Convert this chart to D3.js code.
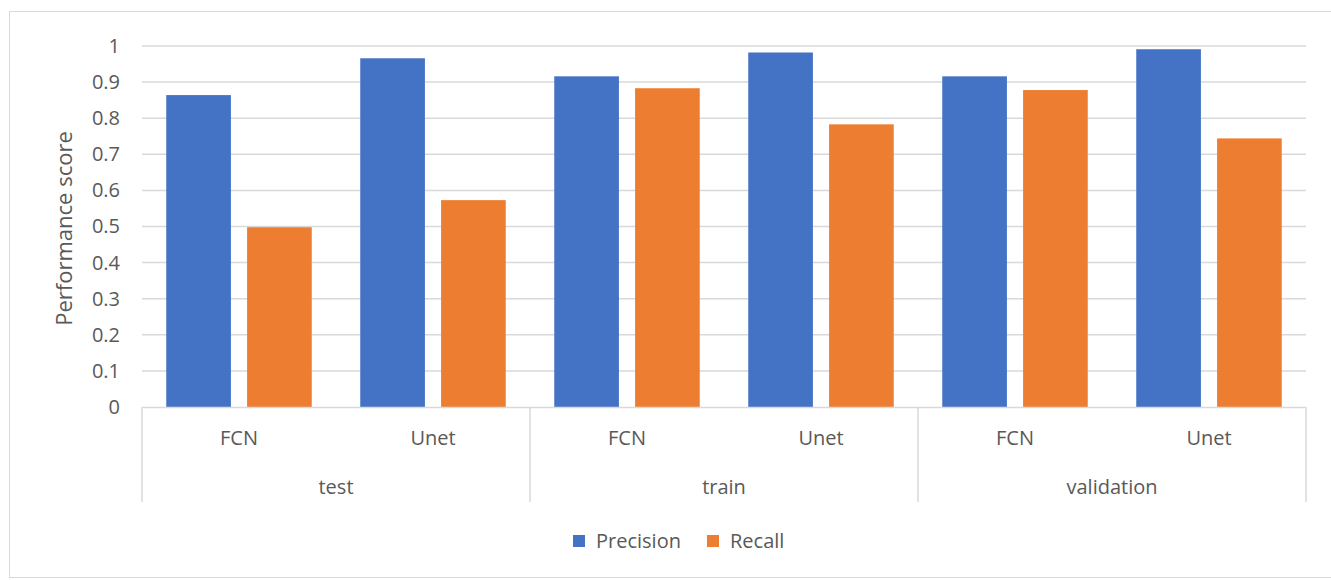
<!DOCTYPE html>
<html><head><meta charset="utf-8">
<script src="https://cdn.jsdelivr.net/npm/d3@7/dist/d3.min.js"></script>
<style>html,body{margin:0;padding:0;background:#fff;}svg{display:block;font-family:"Open Sans",sans-serif;}</style>
</head><body>
<svg id="c" width="1331" height="580"></svg>
<script>
const groups = ["test", "train", "validation"];
const models = ["FCN", "Unet"];
const seriesNames = ["Precision", "Recall"];
const precision = [0.864, 0.966, 0.916, 0.982, 0.916, 0.991];
const recall = [0.498, 0.573, 0.883, 0.783, 0.878, 0.744];
const yTicks = [0, 0.1, 0.2, 0.3, 0.4, 0.5, 0.6, 0.7, 0.8, 0.9, 1];
const colors = ["#4472C4", "#ED7D31"];

(function () {
const svg = d3.select("#c");
const pL = 142, pR = 1306, pT = 46, pB = 407;
const textColor = "#595959";

svg.append("rect").attr("x", 9.5).attr("y", 11.5).attr("width", 1340).attr("height", 566)
  .attr("fill", "none").attr("stroke", "#d9d9d9").attr("stroke-width", 1);

const y = d3.scaleLinear().domain([0, 1]).range([pB, pT]);
const cats = [];
groups.forEach(g => models.forEach(m => cats.push(g + "|" + m)));
const xg = d3.scaleBand().domain(groups).range([pL, pR]);
const xc = d3.scaleBand().domain(cats).range([pL, pR]);
const xs = d3.scaleBand().domain(seriesNames).range([0, xc.bandwidth()]).paddingInner(0.2).paddingOuter(0.3);

// gridlines
svg.append("g").selectAll("line").data(yTicks.filter(d => d > 0)).join("line")
  .attr("x1", pL).attr("x2", pR).attr("y1", d => y(d)).attr("y2", d => y(d))
  .attr("stroke", "#d9d9d9").attr("stroke-width", 1.5);

// y axis labels
const yAxis = d3.axisLeft(y).tickValues(yTicks).tickSize(0).tickPadding(0).tickFormat(d => String(+d.toFixed(1)));
const ya = svg.append("g").attr("transform", `translate(${120},0)`).call(yAxis);
ya.select(".domain").remove();
ya.selectAll("text").attr("fill", textColor).style("font-size", "20px").style("font-family", '"Open Sans",sans-serif');

svg.append("text").attr("transform", `translate(72,${(pT + pB) / 2 + 2}) rotate(-90)`)
  .attr("text-anchor", "middle").attr("fill", textColor).style("font-size", "22px").text("Performance score");

// bars
const data = seriesNames.map((s, i) => ({ name: s, color: colors[i], values: i === 0 ? precision : recall }));
data.forEach(s => {
  svg.append("g").selectAll("rect").data(s.values).join("rect")
    .attr("x", (d, i) => xc(cats[i]) + xs(s.name))
    .attr("width", xs.bandwidth())
    .attr("y", d => y(d)).attr("height", d => y(0) - y(d))
    .attr("fill", s.color);
});

// category axis
const axG = svg.append("g");
axG.append("line").attr("x1", pL).attr("x2", pR).attr("y1", pB + 0.5).attr("y2", pB + 0.5)
  .attr("stroke", "#d9d9d9").attr("stroke-width", 1.5);
const bounds = groups.map(g => xg(g)).concat([pR]);
axG.selectAll("line.v").data(bounds).join("line").attr("class", "v")
  .attr("x1", d => d).attr("x2", d => d).attr("y1", pB).attr("y2", 502)
  .attr("stroke", "#d9d9d9").attr("stroke-width", 1.5);
axG.selectAll("text.m").data(cats).join("text").attr("class", "m")
  .attr("x", d => xc(d) + xc.bandwidth() / 2).attr("y", 445)
  .attr("text-anchor", "middle").attr("fill", textColor).style("font-size", "20px")
  .text(d => d.split("|")[1]);
axG.selectAll("text.g").data(groups).join("text").attr("class", "g")
  .attr("x", d => xg(d) + xg.bandwidth() / 2).attr("y", 494)
  .attr("text-anchor", "middle").attr("fill", textColor).style("font-size", "20px")
  .text(d => d);

// legend
const lg = svg.append("g");
const legX = [573, 707];
data.forEach((s, i) => {
  lg.append("rect").attr("x", legX[i]).attr("y", 535).attr("width", 12).attr("height", 12).attr("fill", s.color);
  lg.append("text").attr("x", legX[i] + 23).attr("y", 548).attr("fill", textColor).style("font-size", "20px").text(s.name);
});
})();
</script>
</body></html>
